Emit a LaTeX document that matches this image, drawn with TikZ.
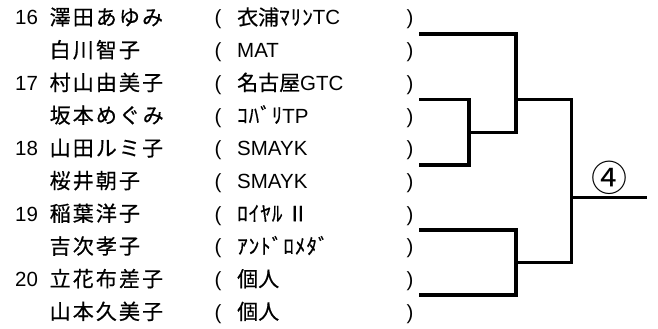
\documentclass[tikz,border=0pt]{standalone}
\usepackage{fontspec}
\setmainfont{Liberation Sans}
\newfontfamily\jp[LetterSpace=10,FakeBold=0.5]{Noto Sans CJK JP}
\newfontfamily\jpc[FakeBold=0.5]{Noto Sans CJK JP}
\newfontfamily\jph[LetterSpace=5,FakeBold=0.5]{Noto Sans CJK JP}
\newfontfamily\jpw{Noto Sans CJK JP}
\newcommand\fz{\fontsize{21}{21}\selectfont}
\begin{document}
\begin{tikzpicture}[x=1pt,y=-1pt,
  txt/.style={anchor=base west,inner sep=0pt,font=\fontsize{20.5}{21}\selectfont},
  par/.style={anchor=base,inner sep=0pt,font=\fontsize{20.5}{21}\selectfont},
  br/.style={line width=3.1pt,line cap=rect}]
\useasboundingbox (0,0) rectangle (658,329);
% numbers
\foreach \n/\i in {16/0,17/2,18/4,19/6,20/8}
  \node[txt] (num\i) at (15,{17.5+32.7*\i+7.5}) {\n};
% names
\foreach \nm [count=\i from 0] in {澤田あゆみ,白川智子,村山由美子,坂本めぐみ,山田ルミ子,桜井朝子,稲葉洋子,吉次孝子,立花布差子,山本久美子}
  \node[txt] (name\i) at (49.5,{17.5+32.7*\i+7.5}) {\jp\fz \nm};
% parentheses
\foreach \i in {0,...,9}{
  \node[par] (lp\i) at (218,{17.5+32.7*\i+7.5}) {(};
  \node[par] (rp\i) at (410,{17.5+32.7*\i+7.5}) {)};
}
% teams
\node[txt] (team0) at (237,{17.5+7.5}) {{\jpc\fz 衣浦}{\jph\fz ﾏﾘﾝ}TC};
\node[txt] (team1) at (237,{17.5+32.7+7.5}) {MAT};
\node[txt] (team2) at (237,{17.5+32.7*2+7.5}) {{\jpc\fz 名古屋}GTC};
\node[txt] (team3) at (237,{17.5+32.7*3+7.5}) {{\jph\fz ｺﾊﾞﾘ}TP};
\node[txt] (team4) at (237,{17.5+32.7*4+7.5}) {SMAYK};
\node[txt] (team5) at (237,{17.5+32.7*5+7.5}) {SMAYK};
\node[txt] (team6) at (237,{17.5+32.7*6+7.5}) {{\jph\fz ﾛｲﾔﾙ}\hspace{5pt}{\jpc\fz Ⅱ}};
\node[txt] (team7) at (237,{17.5+32.7*7+7.5}) {{\jph\fz ｱﾝﾄﾞﾛﾒﾀﾞ}};
\node[txt] (team8) at (237,{17.5+32.7*8+7.5}) {{\jpc\fz 個人}};
\node[txt] (team9) at (237,{17.5+32.7*9+7.5}) {{\jpc\fz 個人}};
% bracket coordinates
\coordinate (a1) at (421,34);
\coordinate (a2) at (516,34);
\coordinate (b1) at (421,99.3);
\coordinate (b2) at (469,99.3);
\coordinate (c1) at (421,165);
\coordinate (c2) at (469,165);
\coordinate (bc) at (469,132.3);
\coordinate (ac) at (516,132.3);
\coordinate (am) at (516,99.3);
\coordinate (f1) at (571.3,99.3);
\coordinate (d1) at (421,230);
\coordinate (d2) at (516,230);
\coordinate (e1) at (421,295);
\coordinate (e2) at (516,295);
\coordinate (dm) at (516,262.7);
\coordinate (f2) at (571.3,262.7);
\coordinate (fm) at (571.3,197.3);
\coordinate (w) at (645,197.3);
\draw[br] (b1) -- (b2) -- (c2) -- (c1);
\draw[br] (bc) -- (ac);
\draw[br] (a1) -- (a2) -- (ac);
\draw[br] (am) -- (f1);
\draw[br] (d1) -- (d2) -- (e2) -- (e1);
\draw[br] (dm) -- (f2);
\draw[br] (f1) -- (f2);
\draw[br] (fm) -- (w);
\node[anchor=center,inner sep=0pt,font=\jpw\fontsize{36}{36}\selectfont] (win) at (609,178) {④};
\end{tikzpicture}
\end{document}
